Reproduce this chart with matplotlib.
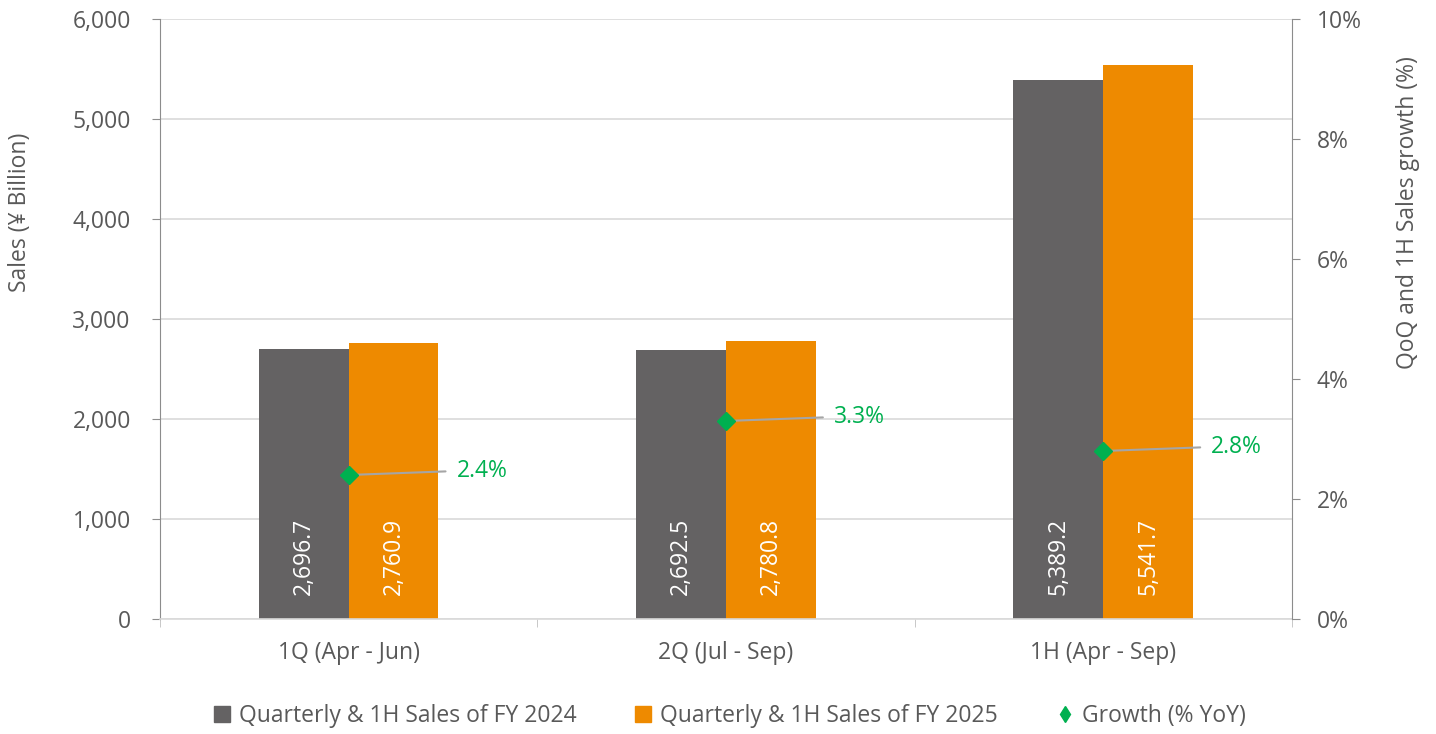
import matplotlib.pyplot as plt
from matplotlib.lines import Line2D
from matplotlib.ticker import FuncFormatter, PercentFormatter

plt.rcParams['font.family'] = ['Open Sans', 'DejaVu Sans']

categories = ["1Q (Apr - Jun)", "2Q (Jul - Sep)", "1H (Apr - Sep)"]
sales_fy2024 = [2696.7, 2692.5, 5389.2]
sales_fy2025 = [2760.9, 2780.8, 5541.7]
growth_pct = [2.4, 3.3, 2.8]

GRAY = "#646263"
ORANGE = "#EE8A00"
GREEN = "#00B050"
TEXT = "#595959"
AXIS = "#8C8C8C"
FS = 16.5

fig = plt.figure(figsize=(14.36, 7.34), dpi=100)
ax = fig.add_axes([0.1114, 0.1567, 0.7883, 0.8174])

x = list(range(len(categories)))
w = 0.238
bars1 = ax.bar([i - w / 2 for i in x], sales_fy2024, width=w, color=GRAY, zorder=2)
bars2 = ax.bar([i + w / 2 for i in x], sales_fy2025, width=w, color=ORANGE, zorder=2)

# values written inside the bars, bottom-up
for bars, vals in ((bars1, sales_fy2024), (bars2, sales_fy2025)):
    for b, v in zip(bars, vals):
        ax.text(b.get_x() + b.get_width() / 2, 240, f"{v:,.1f}", rotation=90,
                ha="center", va="bottom", color="white", fontsize=FS, zorder=3)

ax.set_xlim(-0.5, 2.5)
ax.set_ylim(0, 6000)
ax.set_yticks(range(0, 6001, 1000))
ax.yaxis.set_major_formatter(FuncFormatter(lambda v, p: f"{v:,.0f}"))
ax.set_xticks(x)
ax.set_xticklabels(categories)
ax.set_xticks([-0.5, 0.5, 1.5, 2.5], minor=True)
ax.tick_params(axis="x", which="major", length=0, pad=16, labelsize=FS, labelcolor=TEXT)
ax.tick_params(axis="x", which="minor", length=6, color="#BFBFBF")
ax.tick_params(axis="y", length=6, color=AXIS, labelsize=FS, labelcolor=TEXT, pad=15)
ax.grid(axis="y", color="#D9D9D9", linewidth=1.2, zorder=0)
ax.set_axisbelow(True)
ax.set_ylabel("Sales (¥ Billion)", fontsize=FS, color=TEXT)
ax.yaxis.set_label_coords(-0.113, 0.678)
for s in ("top", "right"):
    ax.spines[s].set_visible(False)
ax.spines["left"].set_color(AXIS)
ax.spines["bottom"].set_color("#D9D9D9")
ax.spines["bottom"].set_linewidth(1.2)

# growth on the right axis
ax2 = ax.twinx()
ax2.set_ylim(0, 10)
ax2.set_yticks(range(0, 11, 2))
ax2.yaxis.set_major_formatter(PercentFormatter(decimals=0))
ax2.tick_params(axis="y", length=6, color=AXIS, labelsize=FS, labelcolor=TEXT, pad=12)
ax2.set_ylabel("QoQ and 1H Sales growth (%)", fontsize=FS, color=TEXT)
ax2.yaxis.set_label_coords(1.092, 0.678)
for s in ("top", "left", "bottom"):
    ax2.spines[s].set_visible(False)
ax2.spines["right"].set_color(AXIS)

ax2.plot(x, growth_pct, linestyle="none", marker="D", markersize=9.5,
         color=GREEN, zorder=5)
for xi, g in zip(x, growth_pct):
    ax2.annotate(f"{g:.1f}%", xy=(xi, g), xytext=(108, 4), textcoords="offset pixels",
                 ha="left", va="center", fontsize=FS, color=GREEN,
                 arrowprops=dict(arrowstyle="-", color="#A5A5A5", lw=1.5,
                                 shrinkA=6, shrinkB=0, relpos=(0, 0.5)))

handles = [
    Line2D([], [], linestyle="none", marker="s", markersize=11, color=GRAY),
    Line2D([], [], linestyle="none", marker="s", markersize=11, color=ORANGE),
    Line2D([], [], linestyle="none", marker="d", markersize=8, color=GREEN),
]
labels = ["Quarterly & 1H Sales of FY 2024", "Quarterly & 1H Sales of FY 2025",
          "Growth (% YoY)"]
fig.legend(handles, labels, loc="center", bbox_to_anchor=(0.507, 0.024), ncol=3,
           frameon=False, fontsize=FS, labelcolor=TEXT, columnspacing=2.4,
           handletextpad=0.25, handlelength=1.0)

fig.savefig("out.png", dpi=100)
